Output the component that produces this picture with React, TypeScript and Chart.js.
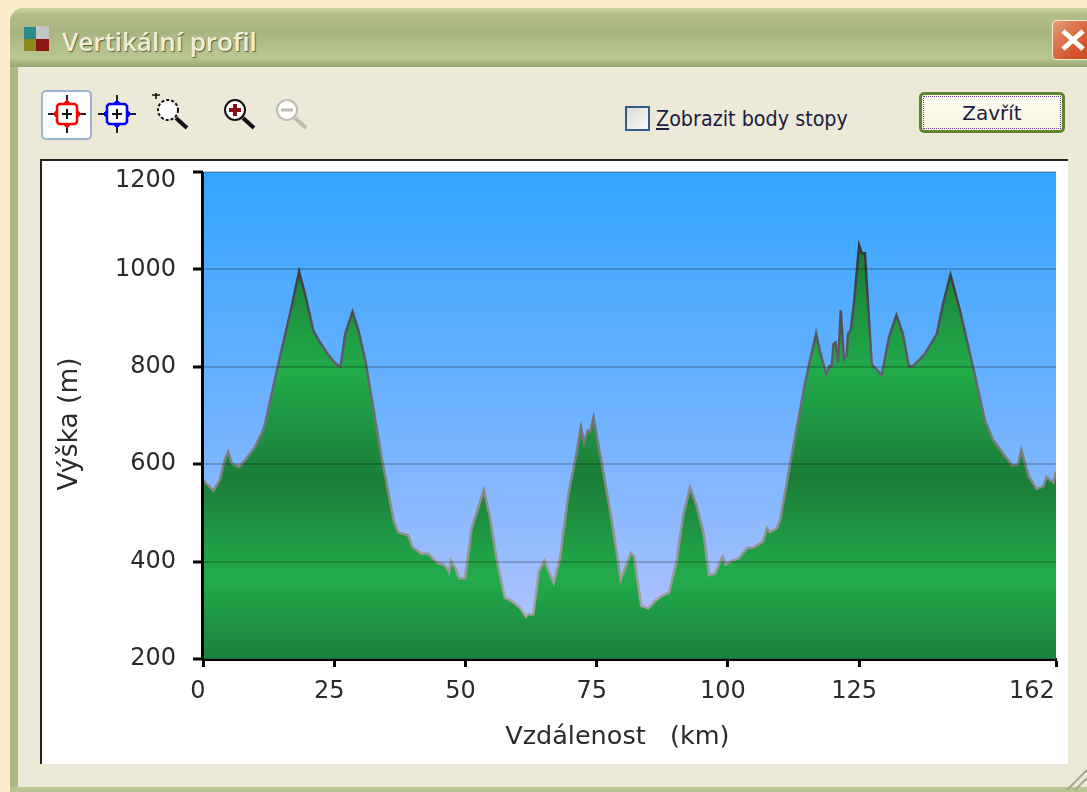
import React, { useEffect, useRef } from "react";
import { Chart, registerables } from "chart.js";

Chart.register(...registerables);

const distanceKm = [0, 2, 3.2, 4.2, 4.8, 5.5, 6.9, 8, 9.9, 11.6, 13.1, 14.3, 16.6, 18.3, 19.4, 21, 22, 23.9, 25.2, 26.2, 27.1, 28.5, 29.6, 30.9, 32.1, 34, 36.4, 37.2, 39.1, 39.9, 41.6, 42.9, 44.5, 46.1, 46.9, 47.2, 48, 48.8, 49.9, 51.2, 53.5, 54.7, 55.9, 57.5, 58.8, 60.4, 61.5, 62, 62.9, 64, 65, 66.8, 68, 69.6, 71.2, 72, 72.6, 73.3, 73.8, 74.4, 75.1, 76.3, 77.8, 79.6, 81.5, 82.1, 83.5, 84.8, 86.1, 87.3, 88.8, 90.2, 91.5, 92.8, 94, 95.3, 96.4, 97.5, 99, 99.6, 100.7, 102, 103.7, 104.8, 106.7, 107.4, 108, 109.3, 110, 111.8, 114.4, 115.6, 116.8, 117.5, 118.7, 119.4, 119.8, 120.1, 120.5, 121, 121.5, 122.1, 122.6, 122.9, 123.4, 124, 125, 125.5, 126.1, 126.5, 127.4, 128.3, 129.3, 130.7, 132.1, 133.3, 134.5, 135.3, 137.5, 139.8, 141, 142.4, 144.2, 146.7, 149, 150.5, 152.4, 154.2, 155.3, 155.9, 156.6, 157.4, 158.8, 160.1, 160.7, 162, 162.5];
const elevationM = [567, 546, 568, 611, 625, 601, 594, 608, 635, 673, 745, 803, 910, 995, 951, 875, 855, 824, 807, 800, 868, 913, 875, 814, 738, 615, 481, 460, 454, 430, 416, 416, 399, 392, 378, 402, 388, 366, 366, 469, 547, 489, 407, 326, 319, 305, 287, 292, 292, 380, 402, 356, 407, 537, 625, 676, 644, 669, 667, 696, 652, 581, 489, 363, 418, 411, 309, 304, 319, 329, 337, 400, 496, 552, 516, 462, 373, 375, 410, 394, 402, 406, 428, 429, 441, 469, 460, 468, 488, 598, 750, 812, 868, 833, 785, 802, 802, 847, 850, 809, 916, 816, 823, 868, 875, 930, 1049, 1033, 1033, 964, 805, 795, 783, 861, 906, 868, 800, 802, 826, 868, 930, 989, 916, 799, 688, 650, 622, 597, 600, 629, 602, 574, 549, 555, 574, 562, 585];
const xTicks = [0, 25, 50, 75, 100, 125, 162.5];
const xTickLabels = ["0", "25", "50", "75", "100", "125", "162     "];
const yTicks = [200, 400, 600, 800, 1000, 1200];
const xTitle = "Vzdálenost   (km)   ";
const yTitle = "Výška (m)  ";
const windowTitle = "Vertikální profil";
const checkboxLabel = "obrazit body stopy";
const closeLabel = "Zavřít";

const FONT = "'DejaVu Sans', sans-serif";

function vGrad(chart: any, stops: [number, string][]) {
  const { ctx, chartArea } = chart;
  const g = ctx.createLinearGradient(0, chartArea.top, 0, chartArea.bottom);
  stops.forEach(([t, c]) => g.addColorStop(t, c));
  return g;
}

const skyPlugin = {
  id: "sky",
  beforeDraw(chart: any) {
    const { ctx, chartArea: a } = chart;
    ctx.save();
    ctx.fillStyle = vGrad(chart, [[0, "#33a5ff"], [0.5, "#6fb2ff"], [1, "#b8c4ff"]]);
    ctx.fillRect(a.left, a.top, a.right - a.left, a.bottom - a.top);
    ctx.restore();
  },
  afterDraw(chart: any) {
    const { ctx, chartArea: a, scales } = chart;
    const left = scales.x.getPixelForValue(0);
    ctx.save();
    ctx.strokeStyle = "#000";
    ctx.lineWidth = 3;
    ctx.beginPath();
    ctx.moveTo(left - 0.5, a.top);
    ctx.lineTo(left - 0.5, a.bottom + 1);
    ctx.stroke();
    ctx.restore();
  },
};

function Crosshair({ x, color }: { x: number; color: string }) {
  return (
    <svg style={{ position: "absolute", left: x - 20, top: 94 }} width={40} height={40} viewBox="-20 -20 40 40">
      <path d="M-19 0H-10M10 0H19M0 -19V-10M0 10V19" stroke="#222" strokeWidth={2} />
      <path d="M-8 -10H8L10 -8V8L8 10H-8L-10 8V-8Z" fill="#fff" stroke={color} strokeWidth={2.5} />
      <path d="M-10 -4L-14 0L-10 4ZM10 -4L14 0L10 4ZM-4 -10L0 -14L4 -10ZM-4 10L0 14L4 10Z" fill={color} stroke={color} />
      <path d="M-5 0H5M0 -5V5" stroke="#111" strokeWidth={2} />
    </svg>
  );
}

function Lens({ x, stroke, mark, dashed, sign }: { x: number; stroke: string; mark: string; dashed?: boolean; sign: string }) {
  return (
    <svg style={{ position: "absolute", left: x - 20, top: 93 }} width={40} height={40} viewBox="-20 -20 40 40">
      <circle cx={-3} cy={-3} r={10} fill="#fff" stroke={stroke} strokeWidth={2} strokeDasharray={dashed ? "3 2" : undefined} />
      <path d="M5 5L16 15" stroke={stroke} strokeWidth={4} />
      {sign === "plus" && <path d="M-9 -3H3M-3 -9V3" stroke={mark} strokeWidth={4} />}
      {sign === "minus" && <path d="M-9 -3H3" stroke={mark} strokeWidth={3} />}
      {sign === "corner" && <path d="M-19 -18H-11M-15 -22V-14" stroke="#111" strokeWidth={1.6} />}
    </svg>
  );
}

export default function App() {
  const ref = useRef<HTMLCanvasElement>(null);

  useEffect(() => {
    const chart = new Chart(ref.current as HTMLCanvasElement, {
      type: "line",
      data: {
        datasets: [
          {
            data: distanceKm.map((x, i) => ({ x, y: elevationM[i] })),
            pointRadius: 0,
            tension: 0,
            borderWidth: 2.5,
            fill: "start",
            borderColor: (c: any) =>
              c.chart.chartArea
                ? vGrad(c.chart, [[0.15, "#333338"], [0.4, "#5f6068"], [0.65, "#858a88"], [0.95, "#a8a8a8"]])
                : "#666",
            backgroundColor: (c: any) =>
              c.chart.chartArea
                ? vGrad(c.chart, [[0, "#1b7c38"], [0.19, "#1c8039"], [0.41, "#22ab4b"], [0.63, "#1b7d38"], [0.83, "#22ab4b"], [1, "#1c813c"]])
                : "#22ab4b",
          },
        ],
      },
      plugins: [skyPlugin],
      options: {
        animation: false,
        responsive: false,
        maintainAspectRatio: false,
        layout: { padding: { left: 0, right: 12, top: 11, bottom: 0 } },
        plugins: { legend: { display: false }, tooltip: { enabled: false } },
        scales: {
          x: {
            type: "linear",
            min: 0,
            max: 162.5,
            afterBuildTicks: (s: any) => {
              s.ticks = xTicks.map((value) => ({ value }));
            },
            afterFit: (s: any) => {
              s.height = 105;
              s.paddingLeft = 0;
              s.paddingRight = 0;
            },
            ticks: {
              autoSkip: false,
              maxRotation: 0,
              minRotation: 0,
              labelOffset: -5,
              padding: 10,
              color: "#2a2a2a",
              font: { family: "'DejaVu Sans'", size: 24 },
              callback: (v: any) => xTickLabels[xTicks.indexOf(v)],
            },
            grid: { drawOnChartArea: false, drawTicks: true, tickLength: 8, tickWidth: 3, tickColor: "#000" },
            border: { color: "#000", width: 3 },
            title: {
              display: true,
              text: xTitle,
              color: "#2a2a2a",
              font: { family: "'DejaVu Sans'", size: 25.5 },
              padding: { top: 0, bottom: 11 },
            },
          },
          y: {
            type: "linear",
            min: 200,
            max: 1200,
            afterBuildTicks: (s: any) => {
              s.ticks = yTicks.map((value) => ({ value }));
            },
            afterFit: (s: any) => {
              s.width = 161;
              s.paddingTop = 0;
              s.paddingBottom = 0;
            },
            ticks: {
              padding: 17,
              color: "#2a2a2a",
              font: (c: any) => ({
                family: "'DejaVu Sans'",
                size: 24,
                lineHeight: c.tick && c.tick.value === 1200 ? 0.7 : 1.2,
              }),
              callback: (v: any) => (v === 1200 ? ["", String(v)] : String(v)),
            },
            grid: {
              color: "rgba(0,0,0,0.2)",
              lineWidth: 2,
              z: 1,
              tickLength: 10,
              tickWidth: 3,
              tickColor: "#000",
            },
            border: { display: false },
            title: {
              display: true,
              text: yTitle,
              color: "#2a2a2a",
              font: { family: "'DejaVu Sans'", size: 26.5 },
              padding: { top: 12, bottom: 0 },
            },
          },
        },
      },
    } as any);
    return () => chart.destroy();
  }, []);

  const abs = (s: React.CSSProperties): React.CSSProperties => ({ position: "absolute", ...s });

  return (
    <div style={{ position: "relative", width: 1087, height: 792, overflow: "hidden", background: "#fdeecb", fontFamily: FONT, filter: "blur(0.6px)" }}>
      <style>{"html,body{margin:0;padding:0;overflow:hidden}"}</style>
      {/* window frame */}
      <div style={abs({ left: 10, top: 8, width: 1100, height: 790, background: "#abb985", borderTopLeftRadius: 14 })} />
      <div style={abs({ left: 10, top: 8, width: 1100, height: 59, borderTopLeftRadius: 14, background: "linear-gradient(#c9d3a6 0%, #b3bd8a 12%, #a9b580 40%, #bbc792 85%, #97a570 100%)" })} />
      <div style={abs({ left: 18, top: 67, width: 1100, height: 720, background: "#ece9d8" })} />
      <div style={abs({ left: 10, top: 787, width: 1100, height: 6, background: "#b9c490" })} />
      {/* title icon */}
      <svg style={abs({ left: 23, top: 25 })} width={28} height={28} viewBox="0 0 28 28">
        <rect x="1" y="2" width="13" height="13" fill="#2e8a8a" />
        <rect x="13" y="1" width="13" height="13" fill="#c4c4c4" />
        <rect x="1" y="14" width="12" height="12" fill="#8c8a1e" />
        <rect x="13" y="14" width="13" height="12" fill="#8f1414" />
      </svg>
      <div style={abs({ left: 62, top: 24, fontFamily: "'Open Sans'", fontWeight: 600, fontSize: 26, lineHeight: "34px", color: "#f2eed6", textShadow: "1px 1px 1px #55603a", whiteSpace: "nowrap" })}>
        {windowTitle}
      </div>
      {/* close button */}
      <div style={abs({ left: 1052, top: 20, width: 50, height: 40, borderRadius: 4, border: "1px solid #f3ead8", background: "linear-gradient(135deg,#e49a7a,#d5562a 60%,#c04a20)", boxSizing: "border-box" })}>
        <svg width={40} height={38} viewBox="0 0 40 38">
          <path d="M10 10L30 28M30 10L10 28" stroke="#fff" strokeWidth={5} />
        </svg>
      </div>
      {/* toolbar */}
      <div style={abs({ left: 41, top: 90, width: 51, height: 50, boxSizing: "border-box", background: "#fff", border: "2px solid #9db4cc", borderRadius: 5 })} />
      <Crosshair x={67} color="#ff0000" />
      <Crosshair x={117} color="#0000ff" />
      <Lens x={171} stroke="#111" mark="#111" dashed sign="corner" />
      <Lens x={238} stroke="#111" mark="#8a0f14" sign="plus" />
      <Lens x={290} stroke="#bcbcb0" mark="#bcbcb0" sign="minus" />
      {/* checkbox */}
      <div style={abs({ left: 625, top: 106, width: 25, height: 25, boxSizing: "border-box", border: "2px solid #2f5f8c", background: "linear-gradient(135deg,#dcdcd4,#fbfbf8)" })} />
      <div style={abs({ left: 656, top: 105, fontFamily: "'DejaVu Sans'", fontSize: 20.5, lineHeight: "28px", color: "#1c1c3c", whiteSpace: "nowrap", transform: "scaleX(0.935)", transformOrigin: "left" })}>
        <span style={{ textDecoration: "underline" }}>Z</span>
        {checkboxLabel}
      </div>
      {/* close text button */}
      <div style={abs({ left: 919, top: 92, width: 146, height: 41, boxSizing: "border-box", border: "3px solid #5f8430", borderRadius: 5, background: "linear-gradient(#fffdf2,#f6f2e2)", textAlign: "center", fontFamily: "'DejaVu Sans'", fontSize: 20, lineHeight: "36px", color: "#1c1c3c" })}>
        <div style={{ position: "absolute", inset: 1, border: "1px dotted #6a3c96" }} />
        {closeLabel}
      </div>
      {/* chart panel */}
      <div style={abs({ left: 40, top: 159, width: 1028, height: 605, boxSizing: "border-box", background: "#fff", borderLeft: "2px solid #222", borderTop: "2px solid #222" })} />
      <canvas ref={ref} width={1026} height={603} style={abs({ left: 42, top: 161, width: 1026, height: 603 })} />
      {/* resize grip */}
      <svg style={abs({ left: 1064, top: 768 })} width={23} height={24} viewBox="0 0 23 24">
        <path d="M3 22L23 2M11 22L23 10" stroke="#a9a796" strokeWidth={2} />
      </svg>
    </div>
  );
}
